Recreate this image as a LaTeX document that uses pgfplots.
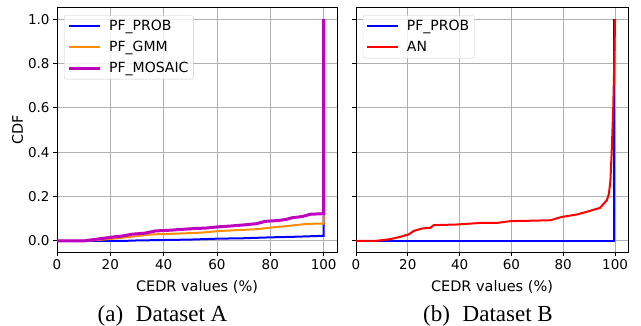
\documentclass[border=0pt]{standalone}
\usepackage{fontspec}
\setmainfont{DejaVu Sans}
\newfontfamily\capfont{Liberation Serif}
\usepackage{pgfplots}
\pgfplotsset{compat=1.18}
\definecolor{mplblue}{RGB}{0,0,255}
\definecolor{mplorange}{RGB}{255,140,0}
\definecolor{mplmag}{RGB}{191,0,191}
\definecolor{mplred}{RGB}{255,0,0}
\definecolor{gridgray}{RGB}{176,176,176}
\newcommand{\lblfont}{\fontsize{14.5bp}{17bp}\selectfont}
\pgfplotsset{
  cdfaxis/.style={
    scale only axis,
    height=244bp,
    xmin=0, xmax=105, ymin=-0.05, ymax=1.05,
    xtick={0,20,40,60,80,100},
    ytick={0,0.2,0.4,0.6,0.8,1.0},
    /pgf/number format/assume math mode=true,
    yticklabel style={/pgf/number format/.cd, fixed, fixed zerofill, precision=1},
    grid=major,
    grid style={color=gridgray, line width=1bp},
    axis line style={line width=1bp, black},
    tick align=outside,
    tick pos=left,
    major tick length=4bp,
    every tick/.style={black, line width=1bp},
    tick label style={font=\fontsize{13.5bp}{16bp}\selectfont},
    xlabel={\lblfont CEDR values (\%)},
    xlabel style={yshift=-4bp},
    legend cell align=left,
    legend image code/.code={\draw[#1] (0bp,0bp) -- (31bp,0bp); \path (37bp,0bp);},
    legend style={font=\fontsize{14bp}{16bp}\selectfont, draw=black!20, rounded corners=2bp,
      fill=white, fill opacity=0.8, text opacity=1, at={(0.025,0.97)}, anchor=north west,
      row sep=5bp, inner sep=3bp},
  }
}
\begin{document}
\begin{tikzpicture}
\useasboundingbox (0,0) rectangle (641bp,326bp);
\begin{axis}[cdfaxis, width=280bp, at={(57bp,74bp)}, anchor=south west,
  ylabel={\lblfont CDF}, ylabel style={yshift=-2bp}]
\addplot[mplblue, line width=2bp] coordinates {
(0,0) (25,0) (30,0.002) (40,0.004) (50,0.006) (60,0.01) (70,0.012) (80,0.016) (90,0.019) (100,0.023) (100,1.0)};
\addlegendentry{PF\_PROB}
\addplot[mplorange, line width=2bp] coordinates {
(0,0) (10,0) (13,0.002) (20,0.009) (25,0.015) (30,0.022) (35,0.029) (40,0.031) (50,0.035) (55,0.038) (60,0.044) (70,0.05) (75,0.053) (80,0.06) (87,0.068) (90,0.072) (94,0.077) (100,0.078) (100,1.0)};
\addlegendentry{PF\_GMM}
\addplot[mplmag, line width=3bp] coordinates {
(0,0) (10,0) (15,0.008) (20,0.016) (25,0.023) (28,0.03) (33,0.035) (37,0.045) (42,0.048) (48,0.053) (52,0.056) (56,0.058) (60,0.063) (65,0.067) (70,0.072) (75,0.078) (78,0.088) (83,0.092) (86,0.097) (88,0.104) (92,0.11) (95,0.12) (100,0.123) (100,1.0)};
\addlegendentry{PF\_MOSAIC}
\end{axis}
\begin{axis}[cdfaxis, width=272bp, at={(356bp,74bp)}, anchor=south west, yticklabels={}]
\addplot[mplblue, line width=2bp] coordinates {(0,0) (99.5,0) (99.5,1.0)};
\addlegendentry{PF\_PROB}
\addplot[mplred, line width=2bp] coordinates {
(0,0) (7.5,0) (13.2,0.008) (17,0.018) (20.3,0.029) (22.3,0.045) (25.5,0.056) (28.7,0.059) (30,0.071) (39,0.074) (48,0.081) (54.4,0.081) (59.5,0.089) (75,0.093) (79.4,0.108) (85.2,0.119) (89,0.131) (94.2,0.149) (96.8,0.183) (97.6,0.21) (98.2,0.27) (98.7,0.4) (99.3,0.6) (99.7,0.8) (100,1.0)};
\addlegendentry{AN}
\end{axis}
\node[anchor=base, font=\capfont\fontsize{23bp}{26bp}\selectfont] at (162.5bp,4.3bp) {(a)\hspace{12.7bp}Dataset A};
\node[anchor=base, font=\capfont\fontsize{23bp}{26bp}\selectfont] at (488bp,4.3bp) {(b)\hspace{12.7bp}Dataset B};
\end{tikzpicture}
\end{document}
